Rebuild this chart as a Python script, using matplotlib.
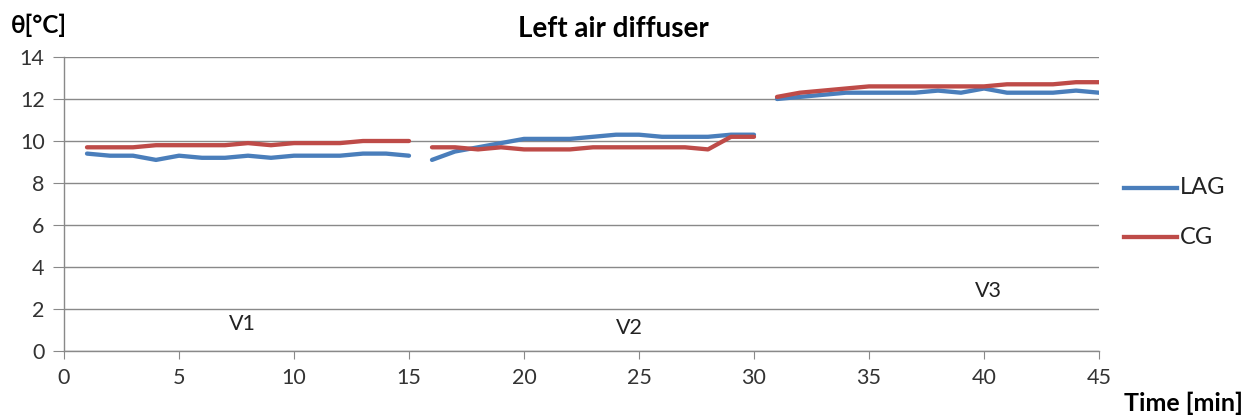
import matplotlib.pyplot as plt

plt.rcParams["font.family"] = ["Lato", "DejaVu Sans"]

# Data: three ventilation phases, one value per minute
t_v1 = list(range(1, 16))
t_v2 = list(range(16, 31))
t_v3 = list(range(31, 46))

lag_v1 = [9.4, 9.3, 9.3, 9.1, 9.3, 9.2, 9.2, 9.3, 9.2, 9.3, 9.3, 9.3, 9.4, 9.4, 9.3]
lag_v2 = [9.1, 9.5, 9.7, 9.9, 10.1, 10.1, 10.1, 10.2, 10.3, 10.3, 10.2, 10.2, 10.2, 10.3, 10.3]
lag_v3 = [12.0, 12.1, 12.2, 12.3, 12.3, 12.3, 12.3, 12.4, 12.3, 12.5, 12.3, 12.3, 12.3, 12.4, 12.3]

cg_v1 = [9.7, 9.7, 9.7, 9.8, 9.8, 9.8, 9.8, 9.9, 9.8, 9.9, 9.9, 9.9, 10.0, 10.0, 10.0]
cg_v2 = [9.7, 9.7, 9.6, 9.7, 9.6, 9.6, 9.6, 9.7, 9.7, 9.7, 9.7, 9.7, 9.6, 10.2, 10.2]
cg_v3 = [12.1, 12.3, 12.4, 12.5, 12.6, 12.6, 12.6, 12.6, 12.6, 12.6, 12.7, 12.7, 12.7, 12.8, 12.8]

phase_labels = ["V1", "V2", "V3"]
phase_label_pos = [(7.75, 1.3), (24.6, 1.1), (40.2, 2.85)]

blue = "#4A7EBB"
red = "#BE4B48"
grid_col = "#898989"

fig = plt.figure(figsize=(12.53, 4.2), dpi=100)
ax = fig.add_axes([64 / 1253, 69 / 420, 1035 / 1253, 294 / 420])

for t, lag, cg in [(t_v1, lag_v1, cg_v1), (t_v2, lag_v2, cg_v2), (t_v3, lag_v3, cg_v3)]:
    ax.plot(t, lag, color=blue, lw=3.1, solid_capstyle="round", solid_joinstyle="round")
    ax.plot(t, cg, color=red, lw=3.1, solid_capstyle="round", solid_joinstyle="round")

for lbl, (x, y) in zip(phase_labels, phase_label_pos):
    ax.text(x, y, lbl, fontsize=15.5, ha="center", va="center", color="#222222")

ax.set_xlim(0, 45)
ax.set_ylim(0, 14)
ax.set_xticks(range(0, 46, 5))
ax.set_yticks(range(0, 15, 2))
ax.grid(axis="y", color=grid_col, lw=1)
ax.set_axisbelow(True)
for s in ["top", "right"]:
    ax.spines[s].set_visible(False)
for s in ["left", "bottom"]:
    ax.spines[s].set_color(grid_col)
    ax.spines[s].set_linewidth(1)
ax.tick_params(axis="x", length=6, color=grid_col, labelsize=15.5, labelcolor="#333333", pad=6)
ax.tick_params(axis="y", length=8, color=grid_col, labelsize=15.5, labelcolor="#333333", pad=6)

fig.text(613 / 1253, 1 - 29 / 420, "Left air diffuser", fontsize=20, fontweight="bold",
         ha="center", va="center")
fig.text(11 / 1253, 1 - 25 / 420, "θ[°C]", fontsize=17.5, fontweight="bold",
         ha="left", va="center")
fig.text(1243 / 1253, 1 - 403 / 420, "Time [min]", fontsize=18, fontweight="bold",
         ha="right", va="center")

# legend drawn by hand at right
fig.lines.append(plt.Line2D([1124 / 1253, 1177 / 1253], [1 - 188 / 420, 1 - 188 / 420],
                            transform=fig.transFigure, color=blue, lw=3.1))
fig.lines.append(plt.Line2D([1124 / 1253, 1177 / 1253], [1 - 237 / 420, 1 - 237 / 420],
                            transform=fig.transFigure, color=red, lw=3.1))
fig.text(1180 / 1253, 1 - 188 / 420, "LAG", fontsize=17, ha="left", va="center", color="#222222")
fig.text(1180 / 1253, 1 - 237 / 420, "CG", fontsize=17, ha="left", va="center", color="#222222")

fig.savefig("out.png", dpi=100)
